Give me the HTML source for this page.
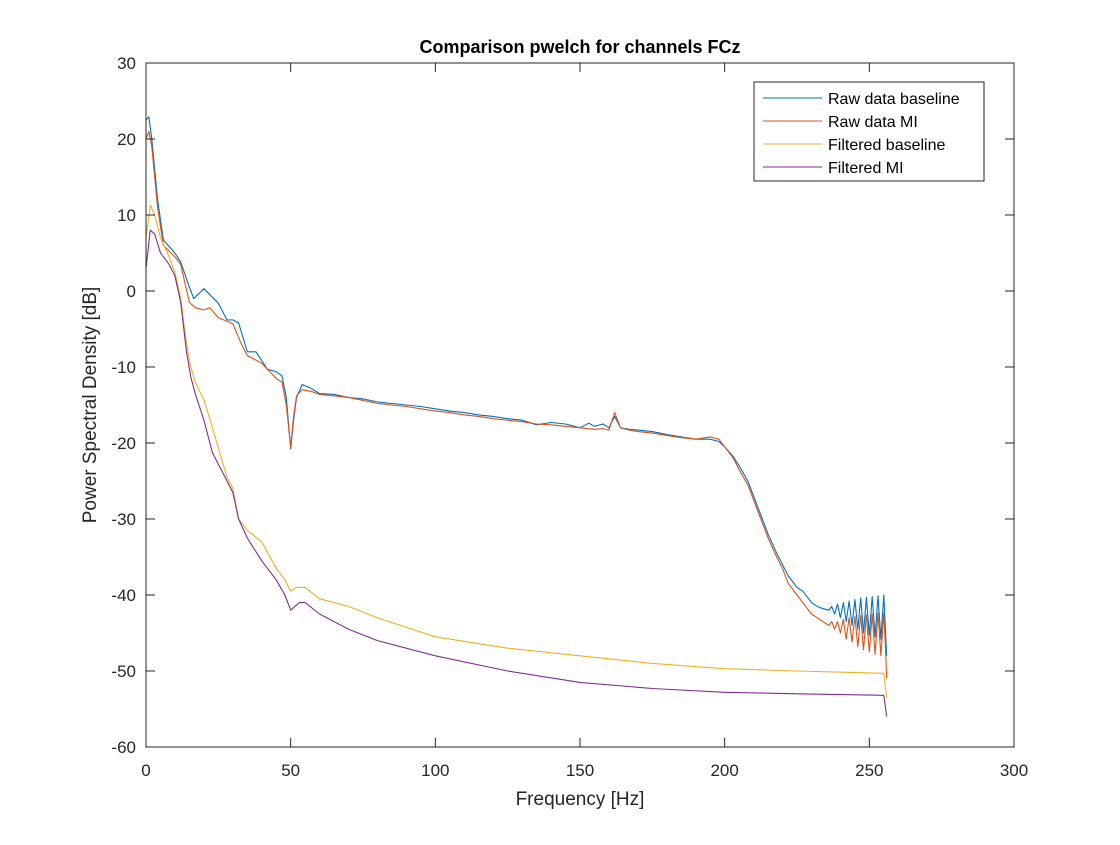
<!DOCTYPE html>
<html><head><meta charset="utf-8"><style>
body{margin:0;background:#fff;width:1120px;height:840px;overflow:hidden}
svg text{font-family:"Liberation Sans",Arial,sans-serif}
</style></head><body>
<svg id="chart" width="1120" height="840">
<rect x="0" y="0" width="1120" height="840" fill="#fff"/>
<g id="series"></g>
<rect x="146" y="63" width="868" height="684" fill="none" stroke="#262626" stroke-width="1"/>
<g id="ticks"></g>
<text x="580" y="53" text-anchor="middle" font-size="18" font-weight="bold" fill="#000">Comparison pwelch for channels FCz</text>
<text x="580" y="805" text-anchor="middle" font-size="19" fill="#262626">Frequency [Hz]</text>
<text transform="translate(96,405) rotate(-90)" text-anchor="middle" font-size="19" fill="#262626">Power Spectral Density [dB]</text>
<g>
<rect x="754" y="82" width="230" height="99" fill="#fff" stroke="#262626" stroke-width="1"/>
<g id="legend"></g>
</g>
</svg>
<script>
const xTicks=[0,50,100,150,200,250,300];
const yTicks=[30,20,10,0,-10,-20,-30,-40,-50,-60];
const seriesNames=["Raw data baseline","Raw data MI","Filtered baseline","Filtered MI"];
const seriesColors=["#0072BD","#D95319","#EDB120","#7E2F8E"];
const rawBaseF=[0,1,2,4,6,10,12,15,16.5,20,25,28,30,32,35,38,42,45,47,48.5,50,51,52,54,57,60,65,70,75,80,85,90,95,100,105,110,115,120,125,130,135,140,145,150,153,155,158,160,162,164,167,170,175,180,185,190,195,198,200,203,205,208,210,213,215,218,220,222,225,227,230,232,234,236];
const rawBaseV=[22.5,22.9,20,12,6.7,5,3.8,0.5,-1,0.3,-1.6,-3.8,-3.8,-4.2,-8,-8,-10.3,-10.6,-11.2,-14,-20.8,-17,-14,-12.3,-12.8,-13.5,-13.6,-14,-14.2,-14.6,-14.8,-15,-15.2,-15.5,-15.8,-16,-16.3,-16.5,-16.8,-17,-17.6,-17.3,-17.5,-18,-17.4,-17.8,-17.5,-18,-16.5,-18,-18.2,-18.3,-18.5,-18.9,-19.2,-19.5,-19.5,-19.8,-20.5,-21.8,-23,-25,-27,-30,-32,-34.5,-36,-37.5,-39,-39.5,-41,-41.5,-41.8,-42];
const rawMiF=[0,1,2,4,6,10,12,15,17,20,22,25,28,30,33,35,40,45,47,48.5,50,51,52,54,57,60,65,70,75,80,85,90,95,100,105,110,115,120,125,130,135,140,145,150,155,158,160,162,164,167,170,175,180,185,190,195,198,200,203,205,208,210,213,215,218,220,222,225,227,230,232,234,236];
const rawMiV=[20,21,19,11,6,4.5,3.5,-1.5,-2.2,-2.5,-2.2,-3.5,-4,-4.3,-7,-8.5,-9.5,-11.5,-12,-15,-20.5,-16.5,-13.8,-13,-13.2,-13.6,-13.8,-14,-14.4,-14.8,-15,-15.2,-15.5,-15.8,-16,-16.3,-16.5,-16.8,-17,-17.2,-17.5,-17.6,-17.8,-18,-18.2,-18.1,-18.3,-16,-18,-18.3,-18.5,-18.7,-19,-19.3,-19.5,-19.2,-19.5,-20.5,-22,-23.5,-25.5,-27.5,-30.5,-32.5,-35,-36.5,-38.5,-40,-41,-42.5,-43,-43.5,-44];
const tailF=[237,238,239,240,241,242,243,244,245,246,247,248,249,250,251,252,253,254,255,255.5,256];
const rawBaseTail=[-41.5,-42.5,-41.2,-43,-41,-43.5,-40.8,-44,-40.6,-44.5,-40.4,-45,-40.3,-45.3,-40.2,-45.5,-40.1,-45.8,-40,-44,-48];
const rawMiTail=[-43.5,-44.5,-43.5,-45,-43.2,-45.8,-43,-46.2,-42.8,-46.8,-42.7,-47.2,-42.6,-47.5,-42.5,-47.8,-42.4,-48,-42.3,-46,-51];
const filtBaseF=[0,1.5,3,5,8,10,12,14,15.5,17,20,23,25.5,28,30,32,35,40,45,48,50,52,55,60,70,80,100,125,150,175,200,225,255,256];
const filtBaseV=[7,11.3,10,7,4.5,2.5,-1,-7,-10,-12,-14.3,-18,-21.3,-24.5,-26,-30,-31.5,-33,-36.5,-38,-39.5,-39,-39,-40.5,-41.5,-43,-45.5,-47,-48,-49,-49.7,-50,-50.3,-53.5];
const filtMiF=[0,1.5,3,5,8,10,12,14,15.5,17,20,23,26,30,32,35,40,45,48,50,53,55,60,70,80,100,125,150,175,200,225,255,256];
const filtMiV=[3,8,7.5,5,3.5,2,-1.5,-8,-11.3,-13.5,-17,-21.3,-23.5,-26.5,-30,-32.5,-35.5,-38,-40,-42,-41,-41,-42.5,-44.5,-46,-48,-50,-51.5,-52.3,-52.8,-53,-53.2,-56];

const X=f=>146+f*(868/300);
const Y=v=>63+(30-v)*(684/90);
const NS="http://www.w3.org/2000/svg";
function mk(tag,attrs,parent){const e=document.createElementNS(NS,tag);for(const k in attrs)e.setAttribute(k,attrs[k]);parent.appendChild(e);return e;}
const ticks=document.getElementById('ticks');
xTicks.forEach(t=>{
  const l=mk('line',{x1:X(t),x2:X(t),y1:747,y2:738,stroke:'#262626'},ticks);
  
  
  mk('line',{x1:X(t),x2:X(t),y1:63,y2:72,stroke:'#262626'},ticks);
  const tx=mk('text',{x:X(t),y:776,'text-anchor':'middle','font-size':17,fill:'#262626'},ticks);
  tx.textContent=t;
  
  
});
yTicks.forEach(t=>{
  const l=mk('line',{x1:146,x2:155,y1:Y(t),y2:Y(t),stroke:'#262626'},ticks);
  
  
  mk('line',{x1:1014,x2:1005,y1:Y(t),y2:Y(t),stroke:'#262626'},ticks);
  const tx=mk('text',{x:136,y:Y(t)+6,'text-anchor':'end','font-size':17,fill:'#262626'},ticks);
  tx.textContent=t;
  
  
});
const S=document.getElementById('series');
const data=[[rawBaseF.concat(tailF),rawBaseV.concat(rawBaseTail)],[rawMiF.concat(tailF),rawMiV.concat(rawMiTail)],[filtBaseF,filtBaseV],[filtMiF,filtMiV]];
const seriesKeys=['raw-baseline-line','raw-mi-line','filtered-baseline-line','filtered-mi-line'];
data.forEach((d,i)=>{
  const pts=d[0].map((f,j)=>X(f).toFixed(1)+','+Y(d[1][j]).toFixed(1)).join(' ');
  const p=mk('polyline',{points:pts,fill:'none',stroke:seriesColors[i],'stroke-width':1.1,'stroke-linejoin':'round'},S);
  
  
});
const L=document.getElementById('legend');
seriesNames.forEach((n,i)=>{
  const y=98+i*23;
  const l=mk('line',{x1:763,x2:822,y1:y,y2:y,stroke:seriesColors[i],'stroke-width':1.1},L);
  
  
  const t=mk('text',{x:828,y:y+6,'font-size':16,fill:'#000'},L);
  t.textContent=n;
  
  
});
</script>
</body></html>
